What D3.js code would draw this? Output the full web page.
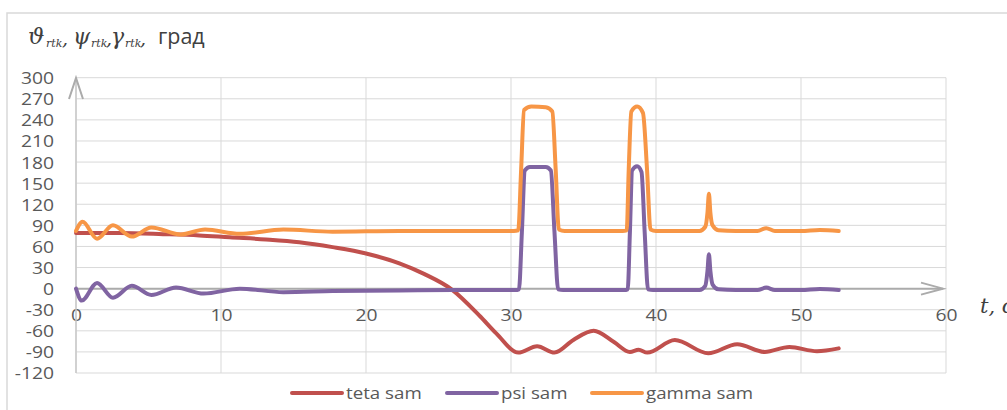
<!DOCTYPE html>
<html><head><meta charset="utf-8">
<script src="https://cdn.jsdelivr.net/npm/d3@7"></script>
<style>body{margin:0;background:#fff;overflow:hidden} svg{display:block}</style>
</head><body><svg id="c" width="1007" height="410"></svg>
<script>
const xTicks = [0, 10, 20, 30, 40, 50, 60];
const yTicks = [-120, -90, -60, -30, 0, 30, 60, 90, 120, 150, 180, 210, 240, 270, 300];
const seriesNames = ["teta sam", "psi sam", "gamma sam"];
const seriesColors = ["#C0504D", "#8064A2", "#F79646"];

const tetaT = [0, 3, 6, 8.5, 10.6, 13.1, 15.4, 17.7, 20, 22.3, 24, 25.9, 27.9, 29, 30.5, 31.8, 33, 34.3, 35.7, 37.1, 38.2, 38.8, 39.4, 41.3, 43.6, 45.6, 47.5, 49.2, 51.1, 52.6];
const tetaV = [79, 79, 77.5, 75.7, 73, 70, 66, 59, 50, 36, 21, -1, -40, -64, -91, -82, -91, -73, -60, -76, -90, -87, -91, -73, -92, -79, -90, -83, -89, -85];

const psiT = [0, 0.4, 1.45, 2.55, 3.85, 5.2, 6.9, 8.8, 11.3, 14.3, 17.7, 22.3, 26, 30.3, 30.55, 30.75, 30.95, 31.3, 32.4, 32.75, 33.0, 33.25, 33.6, 36, 37.8, 38.05, 38.2, 38.35, 38.7, 39.0, 39.22, 39.45, 39.8, 41, 43.0, 43.4, 43.55, 43.65, 43.75, 43.9, 44.3, 45.5, 47, 47.6, 48.2, 50, 51.3, 52.6];
const psiV = [0, -17, 8, -13, 4, -9, 1.5, -7, 0, -5, -3.5, -2.5, -2, -2, -1, 80, 168, 173, 173, 168, 80, -1, -2, -2, -2, -1, 80, 168, 174, 166, 80, -1, -2, -2, -2, 4, 25, 49, 25, 6, -1, -2, -2, 1.5, -2, -2, -0.5, -2];

const gammaT = [0, 0.45, 1.45, 2.55, 3.85, 5.2, 7.2, 8.9, 11.3, 14.3, 17.7, 22.3, 26, 30.2, 30.5, 30.7, 30.9, 31.4, 32.4, 32.85, 33.08, 33.3, 33.7, 36, 37.7, 37.98, 38.12, 38.3, 38.7, 39.1, 39.38, 39.62, 40.0, 41, 43.0, 43.4, 43.55, 43.65, 43.75, 43.9, 44.3, 45.5, 47, 47.6, 48.2, 50, 51.3, 52.6];
const gammaV = [82, 95, 71, 90, 74, 87, 77, 84, 78, 84, 81, 82, 82, 82, 83, 170, 254, 259, 258, 252, 170, 84, 82, 82, 82, 83, 170, 252, 259, 250, 170, 84, 82, 82, 82, 88, 108, 135, 108, 90, 83, 82, 82, 86, 82, 82, 83.5, 82];

const seriesT = [tetaT, psiT, gammaT];
const seriesV = [tetaV, psiV, gammaV];

const svg = d3.select("#c");
const x = d3.scaleLinear().domain([0, 60]).range([76, 946]);
const y = d3.scaleLinear().domain([-120, 300]).range([373, 77.7]);
const SX = 1.17;
const FONT = "'Open Sans', sans-serif";

// outer border
svg.append("rect").attr("x", 7).attr("y", 13).attr("width", 1100).attr("height", 500)
  .attr("fill", "none").attr("stroke", "#d9d9d9").attr("stroke-width", 1.5);

// gridlines
svg.append("g").selectAll("line").data(yTicks).join("line")
  .attr("x1", x(0)).attr("x2", x(60)).attr("y1", d => y(d)).attr("y2", d => y(d))
  .attr("stroke", "#d9d9d9").attr("stroke-width", 1);
svg.append("g").selectAll("line").data(xTicks).join("line")
  .attr("x1", d => x(d)).attr("x2", d => x(d)).attr("y1", y(-120)).attr("y2", y(300))
  .attr("stroke", "#d9d9d9").attr("stroke-width", 1);

// axes labels
const gy = svg.append("g").attr("transform", `translate(${x(0)},0)`)
  .call(d3.axisLeft(y).tickValues(yTicks).tickFormat(d => String(d)).tickSize(0).tickPadding(0));
gy.select(".domain").remove();
gy.selectAll("text").attr("x", -22 / SX).attr("dy", "0.36em").attr("transform", `scale(${SX},1)`)
  .attr("fill", "#595959").attr("font-family", FONT).attr("font-size", 16.5);

const gx = svg.append("g").attr("transform", `translate(0,${y(0)})`)
  .call(d3.axisBottom(x).tickValues(xTicks).tickFormat(d => String(d)).tickSize(0).tickPadding(21));
gx.select(".domain").remove();
gx.selectAll("text").attr("transform", `scale(${SX},1)`)
  .attr("fill", "#595959").attr("font-family", FONT).attr("font-size", 16.5);

// axis arrows
const arrowCol = "#ababab";
svg.append("line").attr("x1", x(0)).attr("x2", 943).attr("y1", y(0)).attr("y2", y(0))
  .attr("stroke", arrowCol).attr("stroke-width", 2);
svg.append("path").attr("d", `M921,${y(0) - 6}L943,${y(0)}L921,${y(0) + 6}`)
  .attr("fill", "none").attr("stroke", arrowCol).attr("stroke-width", 2);
svg.append("line").attr("x1", x(0)).attr("x2", x(0)).attr("y1", y(-120)).attr("y2", 78)
  .attr("stroke", "#c8c8c8").attr("stroke-width", 1.5);
svg.append("path").attr("d", `M${x(0) - 7},99L${x(0)},78L${x(0) + 7},99`)
  .attr("fill", "none").attr("stroke", arrowCol).attr("stroke-width", 2);

// series
seriesNames.forEach((name, k) => {
  const T = seriesT[k], V = seriesV[k];
  const line = d3.line().x((d, i) => x(T[i])).y(d => y(d)).curve(d3.curveMonotoneX);
  svg.append("path").datum(V).attr("d", line)
    .attr("fill", "none").attr("stroke", seriesColors[k]).attr("stroke-width", 4)
    .attr("stroke-linejoin", "round").attr("stroke-linecap", "round");
});

// legend
const legX = [292, 447, 592];
const lg = svg.append("g");
seriesNames.forEach((name, k) => {
  lg.append("line").attr("x1", legX[k]).attr("x2", legX[k] + 50).attr("y1", 393).attr("y2", 393)
    .attr("stroke", seriesColors[k]).attr("stroke-width", 4).attr("stroke-linecap", "round");
  lg.append("text").attr("transform", `translate(${legX[k] + 54},398.5) scale(${SX},1)`)
    .attr("font-family", FONT).attr("font-size", 16).attr("fill", "#595959").text(name);
});

// title (single text element with tspans)
const serif = "'DejaVu Serif', serif";
const title = svg.append("text").attr("y", 44).attr("fill", "#404040");
const titleParts = [
  {s: "\u03D1", x: 28, dy: 0, f: serif, z: 23, it: true},
  {s: "rtk", x: 46, dy: 3, f: serif, z: 11, it: true},
  {s: ",", x: 62, dy: -2, f: serif, z: 19, it: true},
  {s: "\u03C8", x: 73, dy: -1, f: serif, z: 22, it: true},
  {s: "rtk", x: 91, dy: 3, f: serif, z: 11, it: true},
  {s: ",", x: 106, dy: -2, f: serif, z: 19, it: true},
  {s: "\u03B3", x: 111, dy: -1, f: serif, z: 22, it: true},
  {s: "rtk", x: 125, dy: 3, f: serif, z: 11, it: true},
  {s: ",", x: 140, dy: -2, f: serif, z: 19, it: true},
  {s: "град", x: 158, dy: -1, f: FONT, z: 21.5, it: false}
];
titleParts.forEach(p => {
  title.append("tspan").attr("x", p.x).attr("dy", p.dy)
    .attr("font-family", p.f).attr("font-size", p.z)
    .attr("font-style", p.it ? "italic" : "normal").text(p.s);
});

// x axis title
svg.append("text").attr("x", 980).attr("y", 313).attr("font-family", serif)
  .attr("font-style", "italic").attr("font-size", 21).attr("fill", "#404040").text("t, с");
</script></body></html>
